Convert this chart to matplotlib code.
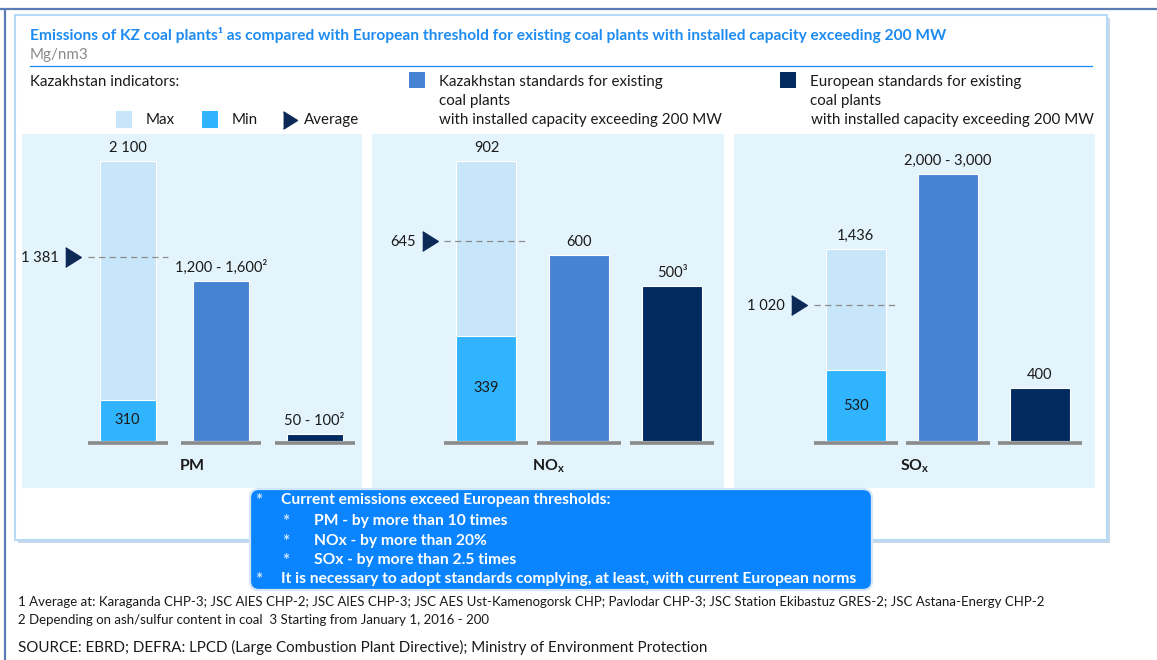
import matplotlib
matplotlib.use('Agg')
import matplotlib.pyplot as plt
from matplotlib.patches import Rectangle, FancyBboxPatch

W, H = 1157, 660
FONT = 'Lato'
plt.rcParams['font.family'] = [FONT, 'DejaVu Sans']
plt.rcParams['mathtext.fontset'] = 'custom'
plt.rcParams['mathtext.rm'] = FONT
plt.rcParams['mathtext.bf'] = FONT + ':bold'

# ---------------- data ----------------
pollutants = [r'$\mathbf{PM}$', r'$\mathbf{NO_x}$', r'$\mathbf{SO_x}$']
kz_max = [2100, 902, 1436]
kz_min = [310, 339, 530]
kz_avg = [1381, 645, 1020]
kz_std = [1200, 600, 2000]
eu_std = [50, 500, 400]
max_labels = ['2 100', '902', '1,436']
min_labels = ['310', '339', '530']
avg_labels = ['1 381', '645', '1 020']
kz_std_labels = ['1,200 - 1,600²', '600', '2,000 - 3,000']
eu_std_labels = ['50 - 100²', '500³', '400']
y_tops = [2300, 990, 2300]

C_MAX = '#C8E6F9'
C_MIN = '#31B4FE'
C_KZ = '#4684D3'
C_EU = '#012A5E'
C_BG = '#E3F4FD'
C_BASE = '#8A8A8A'
C_AVG = '#0D2A57'
C_TITLE = '#1E8BF0'
C_TXT = '#1A1A1A'

fig = plt.figure(figsize=(W / 100, H / 100), dpi=100)
fig.patch.set_facecolor('white')

# background overlay in pixel coords
bg = fig.add_axes([0, 0, 1, 1], zorder=0)
bg.set_xlim(0, W)
bg.set_ylim(H, 0)
bg.axis('off')

# frame
bg.plot([0, W], [9, 9], color='#5A7DB5', lw=1.6, solid_capstyle='butt')
bg.plot([5, 5], [9, H], color='#5A7DB5', lw=1.6, solid_capstyle='butt')
bg.add_patch(Rectangle((18, 18), 1092, 525, fc='#C9D8EA', ec='none'))
bg.add_patch(Rectangle((15, 15), 1092, 525, fc='white', ec='#B4DAF7', lw=1.5))

renderer = fig.canvas.get_renderer()


def fit(t, target_w):
    w = t.get_window_extent(renderer).width
    t.set_fontsize(t.get_fontsize() * target_w / w)
    return t.get_fontsize()


# title
t = bg.text(30, 35, 'Emissions of KZ coal plants¹ as compared with European threshold for existing coal plants '
            'with installed capacity exceeding 200 MW', color=C_TITLE, fontweight='bold',
            fontsize=10.5, ha='left', va='center')
fit(t, 914)

# legend texts
ref = bg.text(811, 120, 'with installed capacity exceeding 200 MW', color=C_TXT, fontsize=10,
              ha='left', va='center')
fs = fit(ref, 283)
bg.text(30, 55, 'Mg/nm3', color='#8A8A8A', fontsize=fs, ha='left', va='center')
bg.plot([30, 1092], [66, 66], color=C_TITLE, lw=0.9)
bg.text(30, 82, 'Kazakhstan indicators:', color=C_TXT, fontsize=fs, ha='left', va='center')
for x0, lines, col in [(409, ['Kazakhstan standards for existing', 'coal plants',
                              'with installed capacity exceeding 200 MW'], C_KZ),
                       (780, ['European standards for existing', 'coal plants', None], C_EU)]:
    bg.add_patch(Rectangle((x0, 72), 16, 16, fc=col, ec='none'))
    for ln, yy in zip(lines, [82, 101, 120]):
        if ln:
            bg.text(x0 + 30, yy, ln, color=C_TXT, fontsize=fs, ha='left', va='center')

bg.add_patch(Rectangle((116, 111), 16, 17, fc=C_MAX, ec='none'))
bg.text(146, 120, 'Max', color=C_TXT, fontsize=fs, ha='left', va='center')
bg.add_patch(Rectangle((202, 111), 16, 17, fc=C_MIN, ec='none'))
bg.text(232, 120, 'Min', color=C_TXT, fontsize=fs, ha='left', va='center')
bg.plot([290], [120], marker=[(-0.8, -1), (0.8, 0), (-0.8, 1)], ms=12.5, color=C_AVG, ls='none')
bg.text(304, 120, 'Average', color=C_TXT, fontsize=fs, ha='left', va='center')

# ---------------- panels ----------------
panel_x = [(22, 362), (372, 724), (734, 1095)]
PT, PB, BASE = 134, 488, 441
first_c = [127.5, 486.5, 855.5]
spacing = [93.5, 93.0, 92.0]
bar_w_px = [56, 60, 60]

# value label font size from a reference label
tmp = bg.text(0, 0, '2,000 - 3,000', fontsize=10)
vfs = fit(tmp, 87)
tmp.remove()

for i in range(3):
    x0, x1 = panel_x[i]
    ax = fig.add_axes([x0 / W, 1 - PB / H, (x1 - x0) / W, (PB - PT) / H], zorder=1)
    ax.set_facecolor(C_BG)
    s = spacing[i]
    c0 = first_c[i]
    ax.set_xlim((x0 - c0) / s, (x1 - c0) / s)
    top = y_tops[i]
    k = (BASE - PT) / top  # px per unit
    ax.set_ylim(-(PB - BASE) / k, top)
    for sp in ax.spines.values():
        sp.set_visible(False)
    ax.set_xticks([])
    ax.set_yticks([])

    w = bar_w_px[i] / s
    ext = 12 / s
    ax.bar(0, kz_max[i], width=w, color=C_MAX, edgecolor='white', lw=0.8, zorder=2)
    ax.bar(0, kz_min[i], width=w, color=C_MIN, edgecolor='white', lw=0.8, zorder=2)
    ax.bar(1, kz_std[i], width=w, color=C_KZ, edgecolor='white', lw=0.8, zorder=2)
    ax.bar(2, eu_std[i], width=w, color=C_EU, edgecolor='white', lw=0.8, zorder=2)
    for p in range(3):
        ax.plot([p - w / 2 - ext, p + w / 2 + ext], [-2 / k, -2 / k], color=C_BASE, lw=2.6,
                solid_capstyle='butt', zorder=3)

    # average
    ax.plot([-w / 2 - ext, w / 2 + ext], [kz_avg[i], kz_avg[i]], color='#8C8C8C', lw=0.9,
            ls=(0, (5, 3.5)), zorder=4)
    tri_x = -w / 2 - ext - 15 / s
    ax.plot([tri_x], [kz_avg[i]], marker=[(-0.8, -1), (0.8, 0), (-0.8, 1)], ms=14, color=C_AVG,
            ls='none', zorder=5)
    ax.annotate(avg_labels[i], xy=(tri_x, kz_avg[i]), xytext=(-14, -1), textcoords='offset pixels',
                ha='right', va='center', fontsize=vfs, color=C_TXT)

    # value labels
    ax.annotate(max_labels[i], xy=(0, kz_max[i]), xytext=(0, 6), textcoords='offset pixels',
                ha='center', va='bottom', fontsize=vfs, color=C_TXT)
    ax.annotate(min_labels[i], xy=(0, kz_min[i] / 2), xytext=(0, 0), textcoords='offset pixels',
                ha='center', va='center', fontsize=vfs, color=C_TXT, zorder=6)
    ax.annotate(kz_std_labels[i], xy=(1, kz_std[i]), xytext=(0, 6), textcoords='offset pixels',
                ha='center', va='bottom', fontsize=vfs, color=C_TXT)
    ax.annotate(eu_std_labels[i], xy=(2, eu_std[i]), xytext=(0, 6), textcoords='offset pixels',
                ha='center', va='bottom', fontsize=vfs, color=C_TXT)
    ax.annotate(pollutants[i], xy=(0.5, 0), xycoords=('axes fraction', 'data'), xytext=(0, -25),
                textcoords='offset pixels', ha='center', va='center', fontsize=fs * 1.05, color=C_TXT)

# ---------------- callout & footnotes ----------------
ov = fig.add_axes([0, 0, 1, 1], zorder=3)
ov.set_xlim(0, W)
ov.set_ylim(H, 0)
ov.axis('off')
ov.patch.set_alpha(0)
ov.add_patch(FancyBboxPatch((250, 489), 622, 101, boxstyle='round,pad=0,rounding_size=9',
                            fc='#0A84FF', ec='#D3E6F8', lw=1.6))
callout = [(0, 'Current emissions exceed European thresholds:', 500),
           (1, 'PM - by more than 10 times', 521),
           (1, 'NOx - by more than 20%', 541),
           (1, 'SOx - by more than 2.5 times', 560),
           (0, 'It is necessary to adopt standards complying, at least, with current European norms', 579)]
last = ov.text(281, 579, callout[-1][1], color='white', fontweight='bold', fontsize=10,
               ha='left', va='center')
cfs = fit(last, 577)
for lvl, txt, yy in callout[:-1]:
    ov.text(281 if lvl == 0 else 314, yy, txt, color='white', fontweight='bold', fontsize=cfs,
            ha='left', va='center')
for lvl, txt, yy in callout:
    ov.text(259 if lvl == 0 else 286, yy + 1, '*', color='#CFE6FF', fontsize=cfs * 1.1, ha='center',
            va='center', fontweight='bold')

f1 = ov.text(18, 602, '1 Average at: Karaganda CHP-3; JSC AlES CHP-2; JSC AlES CHP-3; JSC AES Ust-Kamenogorsk CHP; '
             'Pavlodar CHP-3; JSC Station Ekibastuz GRES-2; JSC Astana-Energy CHP-2',
             color=C_TXT, fontsize=9, ha='left', va='center')
ffs = fit(f1, 1030)
ov.text(18, 620, '2 Depending on ash/sulfur content in coal  3 Starting from January 1, 2016 - 200',
        color=C_TXT, fontsize=ffs, ha='left', va='center')
src = ov.text(18, 647, 'SOURCE: EBRD; DEFRA: LPCD (Large Combustion Plant Directive); Ministry of Environment Protection',
              color=C_TXT, fontsize=10, ha='left', va='center')
fit(src, 690)

fig.savefig('out.png', dpi=100)
